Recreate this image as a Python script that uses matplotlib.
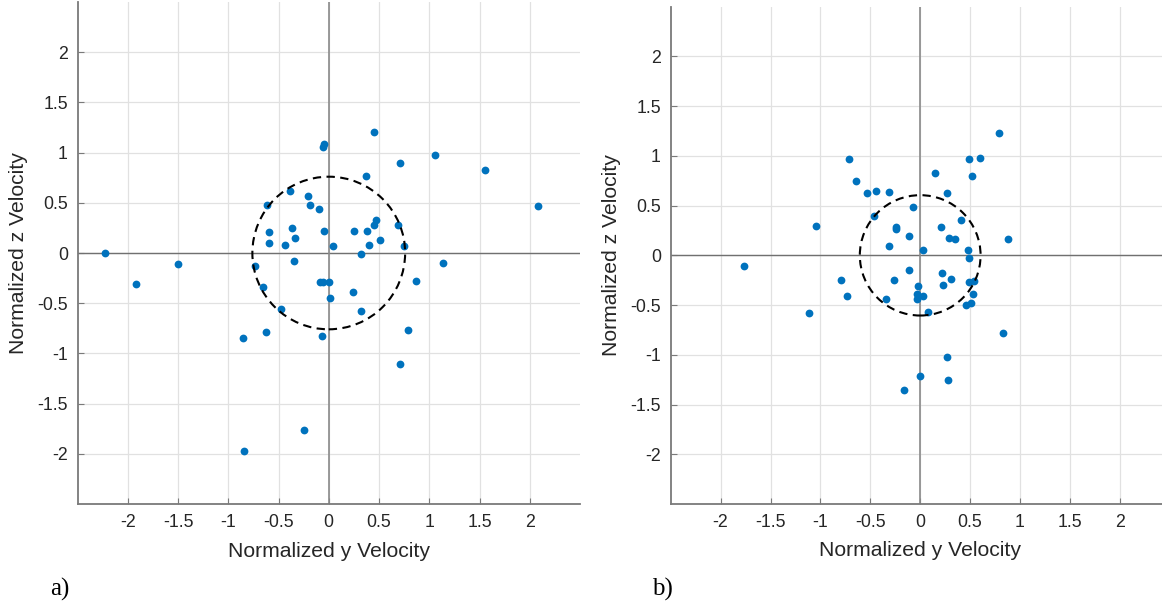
import numpy as np
import matplotlib
matplotlib.use('Agg')
import matplotlib.pyplot as plt
import matplotlib.patches

plt.rcParams['font.family'] = ['Liberation Sans', 'DejaVu Sans']

# --- data (normalized velocities) ---
# a) left panel
ya = [-2.23, -1.92, -1.50, -0.73, -0.65, -0.48, -0.61, -0.59, -0.59, -0.44,
      -0.39, -0.365, -0.34, -0.35, -0.21, -0.19, -0.10, -0.05, 0.04, -0.05,
      -0.06, -0.09, -0.06, 0.00, 0.01, 0.455, 1.055, 0.71, 1.55, 0.37,
      2.08, 0.47, 0.455, 0.69, 0.25, 0.38, 0.40, 0.51, 0.75, 0.325,
      1.14, 0.87, 0.24, 0.325, -0.85, -0.62, -0.07, 0.79, 0.705, -0.245,
      -0.84]
za = [0.00, -0.31, -0.11, -0.13, -0.335, -0.56, 0.48, 0.21, 0.10, 0.08,
      0.62, 0.245, 0.145, -0.08, 0.57, 0.48, 0.44, 0.22, 0.07, 1.09,
      1.06, -0.285, -0.285, -0.285, -0.445, 1.21, 0.975, 0.90, 0.83, 0.77,
      0.47, 0.33, 0.28, 0.28, 0.22, 0.22, 0.08, 0.125, 0.07, -0.01,
      -0.10, -0.28, -0.39, -0.58, -0.845, -0.79, -0.83, -0.77, -1.11, -1.76,
      -1.975]
radius_a = 0.76

# b) right panel
yb = [-1.77, -1.045, -1.11, -0.71, -0.64, -0.53, -0.445, -0.315, -0.46, -0.075,
      -0.245, -0.24, -0.11, -0.315, 0.03, -0.795, -0.73, -0.265, -0.115, -0.345,
      -0.025, -0.035, 0.025, -0.035, 0.075, 0.79, 0.485, 0.595, 0.15, 0.52,
      0.27, 0.405, 0.21, 0.29, 0.345, 0.88, 0.48, 0.485, 0.215, 0.305,
      0.225, 0.49, 0.535, 0.53, 0.46, 0.51, 0.825, 0.265, 0.0, 0.275,
      -0.165]
zb = [-0.11, 0.295, -0.575, 0.97, 0.745, 0.63, 0.65, 0.635, 0.40, 0.485,
      0.29, 0.265, 0.19, 0.095, 0.05, -0.245, -0.41, -0.245, -0.15, -0.435,
      -0.31, -0.385, -0.41, -0.435, -0.565, 1.23, 0.97, 0.975, 0.83, 0.80,
      0.63, 0.36, 0.29, 0.175, 0.165, 0.165, 0.05, -0.03, -0.18, -0.24,
      -0.30, -0.265, -0.26, -0.385, -0.495, -0.48, -0.78, -1.02, -1.21, -1.25,
      -1.35]
radius_b = 0.605

ticks = [-2, -1.5, -1, -0.5, 0, 0.5, 1, 1.5, 2]
tick_labels = ['-2', '-1.5', '-1', '-0.5', '0', '0.5', '1', '1.5', '2']

W, H = 1162, 607
fig = plt.figure(figsize=(W / 100, H / 100), dpi=100)
ax_a = fig.add_axes([77.5 / W, 103 / H, 502.5 / W, 502 / H])
ax_b = fig.add_axes([670.7 / W, 103 / H, 499 / W, 497.3 / H])

blue = '#0072BD'
txt = '#262626'


def style(ax, y, z, r):
    ax.set_xlim(-2.5, 2.5)
    ax.set_ylim(-2.5, 2.5)
    ax.set_xticks(ticks)
    ax.set_yticks(ticks)
    ax.set_xticklabels(tick_labels)
    ax.set_yticklabels(tick_labels)
    ax.grid(color='#e1e1e1', lw=0.9)
    ax.set_axisbelow(True)
    ax.axhline(0, color='#707070', lw=1.0, zorder=1)
    ax.axvline(0, color='#8a8a8a', lw=1.2, zorder=1)
    for s in ('top', 'right'):
        ax.spines[s].set_visible(False)
    for s in ('left', 'bottom'):
        ax.spines[s].set_color('#7a7a7a')
        ax.spines[s].set_linewidth(1.3)
    ax.tick_params(direction='in', length=4, width=0.8, color='#7a7a7a',
                   labelcolor=txt, labelsize=12.8, pad=7)
    ax.plot(y, z, 'o', color=blue, ms=5.6, mec='none', zorder=3)
    ax.add_patch(matplotlib.patches.Circle((0, 0), r, fill=False, ec='black',
                                           lw=1.5, ls=(0, (4, 2.6)), zorder=4))
    ax.set_xlabel('Normalized y Velocity', fontsize=15.2, color=txt)
    ax.set_ylabel('Normalized z Velocity', fontsize=15.2, color=txt)
    ax.xaxis.set_label_coords(0.5, -0.094)
    ax.xaxis.label.set_va('center')
    ax.yaxis.set_label_coords(-0.118, 0.5)
    ax.yaxis.label.set_va('center')


style(ax_a, ya, za, radius_a)
style(ax_b, yb, zb, radius_b)

fig.text(50 / W, 1 - 589 / H, 'a)', family='Liberation Serif', fontsize=18,
         va='center', ha='left', color='black')
fig.text(652 / W, 1 - 589 / H, 'b)', family='Liberation Serif', fontsize=18,
         va='center', ha='left', color='black')

plt.savefig('out.png', dpi=100)
